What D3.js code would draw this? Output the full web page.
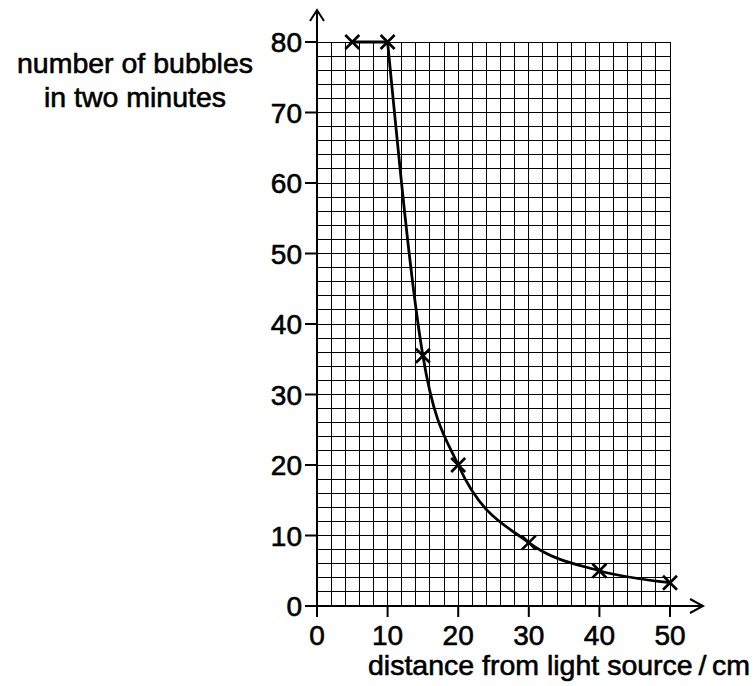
<!DOCTYPE html>
<html><head><meta charset="utf-8">
<script src="https://cdn.jsdelivr.net/npm/d3@7"></script>
<style>body{margin:0;background:#fff}svg{display:block}text{font-family:"Liberation Sans",Arial,sans-serif;fill:#000;stroke:#000;stroke-width:0.6px}</style>
</head><body>
<svg id="c" width="755" height="686"></svg>
<script>
const distance = [5, 10, 15, 20, 30, 40, 50];
const bubbles = [80, 80, 35.5, 20, 9, 5, 3.3];
const xTicks = [0, 10, 20, 30, 40, 50];
const yTicks = [0, 10, 20, 30, 40, 50, 60, 70, 80];
const xLabel = "distance from light source\u2009/\u2009cm";
const yLabel = ["number of bubbles", "in two minutes"];

const svg = d3.select("#c");
const x = d3.scaleLinear().domain([0, 50]).range([317, 670]);
const y = d3.scaleLinear().domain([0, 80]).range([606, 42]);

// grid
const g = svg.append("g").attr("stroke", "#000").attr("stroke-width", 1).attr("shape-rendering", "crispEdges");
g.selectAll("line.v").data(d3.range(2, 51, 2)).join("line")
  .attr("x1", d => x(d)).attr("x2", d => x(d)).attr("y1", y(0)).attr("y2", y(80));
g.selectAll("line.h").data(d3.range(2, 81, 2)).join("line")
  .attr("x1", x(0)).attr("x2", x(50)).attr("y1", d => y(d)).attr("y2", d => y(d));

// axes
const ax = svg.append("g").attr("stroke", "#000").attr("stroke-width", 2).attr("fill", "none");
ax.append("line").attr("x1", x(0)).attr("x2", 703).attr("y1", y(0)).attr("y2", y(0));
ax.append("line").attr("x1", x(0)).attr("x2", x(0)).attr("y1", y(0)).attr("y2", 10);
ax.append("path").attr("d", `M${703-13},${y(0)-7}L703,${y(0)}L${703-13},${y(0)+7}`);
ax.append("path").attr("d", `M${x(0)-7},${21}L${x(0)},10L${x(0)+7},${21}`);
ax.selectAll("line.xt").data(xTicks).join("line")
  .attr("x1", d => x(d)).attr("x2", d => x(d)).attr("y1", y(0)).attr("y2", y(0) + 11);
ax.selectAll("line.yt").data(yTicks).join("line")
  .attr("y1", d => y(d)).attr("y2", d => y(d)).attr("x1", x(0) - 12).attr("x2", x(0));

svg.selectAll("text.xt").data(xTicks).join("text")
  .attr("x", d => x(d)).attr("y", 645).attr("text-anchor", "middle")
  .attr("font-size", 28).text(d => d);
svg.selectAll("text.yt").data(yTicks).join("text")
  .attr("x", 302).attr("y", d => y(d)).attr("dy", "0.36em").attr("text-anchor", "end")
  .attr("font-size", 28).text(d => d);

svg.append("text").attr("x", 559).attr("y", 675).attr("text-anchor", "middle")
  .attr("font-size", 28.5).text(xLabel);
svg.selectAll("text.yl").data(yLabel).join("text")
  .attr("x", 135).attr("y", (d, i) => 73 + i * 34).attr("text-anchor", "middle")
  .attr("font-size", 28.5).text(d => d);

// curve
const pts = distance.map((d, i) => [d, bubbles[i]]);
const lineLin = d3.line().x(d => x(d[0])).y(d => y(d[1]));
const lineCurve = d3.line().x(d => x(d[0])).y(d => y(d[1])).curve(d3.curveMonotoneX);
svg.append("path").attr("d", lineLin(pts.slice(0, 2))).attr("stroke", "#000").attr("stroke-width", 2.8).attr("fill", "none");
svg.append("path").attr("d", lineCurve(pts.slice(1))).attr("stroke", "#000").attr("stroke-width", 2.8).attr("fill", "none");

// crosses
const s = 7;
svg.selectAll("path.cross").data(pts).join("path")
  .attr("d", d => { const cx = x(d[0]), cy = y(d[1]); return `M${cx-s},${cy-s}L${cx+s},${cy+s}M${cx-s},${cy+s}L${cx+s},${cy-s}`; })
  .attr("stroke", "#000").attr("stroke-width", 2.6).attr("fill", "none");
</script>
</body></html>
